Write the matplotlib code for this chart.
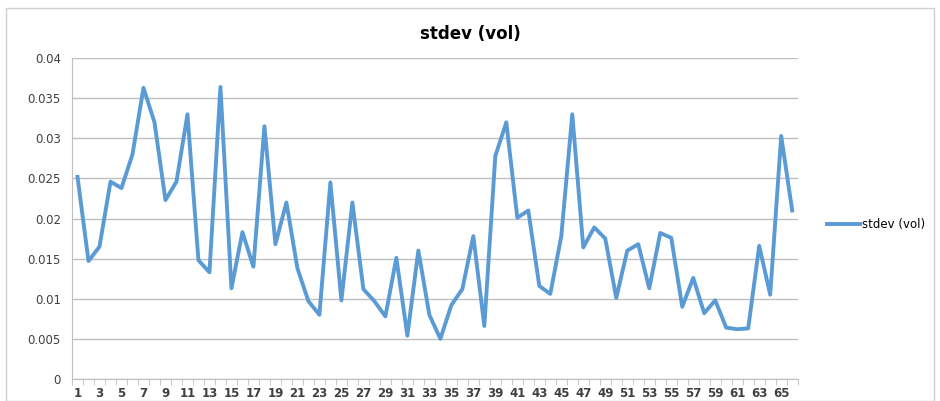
import numpy as np
import matplotlib.pyplot as plt
from matplotlib.patches import Rectangle

periods = list(range(1, 67))
stdev_vol = [0.0252, 0.0147, 0.0165, 0.0246, 0.0238, 0.0280, 0.0363, 0.0320, 0.0223, 0.0246,
             0.0330, 0.0148, 0.0133, 0.0364, 0.0113, 0.0183, 0.0140, 0.0315, 0.0168, 0.0220,
             0.0138, 0.0097, 0.0080, 0.0245, 0.0098, 0.0220, 0.0112, 0.0097, 0.0078, 0.0151,
             0.0054, 0.0160, 0.0080, 0.0050, 0.0092, 0.0112, 0.0178, 0.0066, 0.0278, 0.0320,
             0.0201, 0.0210, 0.0116, 0.0106, 0.0178, 0.0330, 0.0164, 0.0189, 0.0175, 0.0101,
             0.0160, 0.0168, 0.0113, 0.0182, 0.0176, 0.0090, 0.0126, 0.0082, 0.0098, 0.0064,
             0.0062, 0.0063, 0.0166, 0.0105, 0.0303, 0.0210]
yticks = [0, 0.005, 0.01, 0.015, 0.02, 0.025, 0.03, 0.035, 0.04]
ytick_labels = ["0", "0.005", "0.01", "0.015", "0.02", "0.025", "0.03", "0.035", "0.04"]

line_color = "#5B9BD5"
grid_color = "#BFBFBF"

fig = plt.figure(figsize=(9.4, 4.01), dpi=100)
fig.patches.append(Rectangle((0.006, 0.0), 0.988, 0.98, transform=fig.transFigure,
                             fill=False, edgecolor="#D0D0D0", linewidth=1))

ax = fig.add_axes([0.0766, 0.055, 0.772, 0.80])
ax.plot(periods, stdev_vol, color=line_color, linewidth=2.8, label="stdev (vol)")

ax.set_xlim(0.5, 66.5)
ax.set_ylim(0, 0.04)
ax.set_yticks(yticks)
ax.set_yticklabels(ytick_labels, fontsize=8.5)
ax.set_xticks(periods[::2])
ax.set_xticklabels([str(p) for p in periods[::2]], fontsize=8.5, fontweight="bold", color="#404040")
ax.set_xticks(np.arange(0.5, 67, 1), minor=True)
ax.tick_params(axis="x", which="major", length=0, pad=6)
ax.tick_params(axis="x", which="minor", length=4, color=grid_color)
ax.tick_params(axis="y", length=0, pad=8, labelcolor="#404040")
ax.grid(axis="y", color=grid_color, linewidth=1)
ax.set_axisbelow(True)
for s in ["top", "right"]:
    ax.spines[s].set_visible(False)
ax.spines["left"].set_color(grid_color)
ax.spines["bottom"].set_color(grid_color)

fig.text(0.5, 0.915, "stdev (vol)", ha="center", va="center", fontsize=12, fontweight="bold")
fig.legend(loc="center left", bbox_to_anchor=(0.868, 0.44), frameon=False, fontsize=8.5,
           handlelength=2.8, handletextpad=0.2)

fig.savefig("out.png", dpi=100)
